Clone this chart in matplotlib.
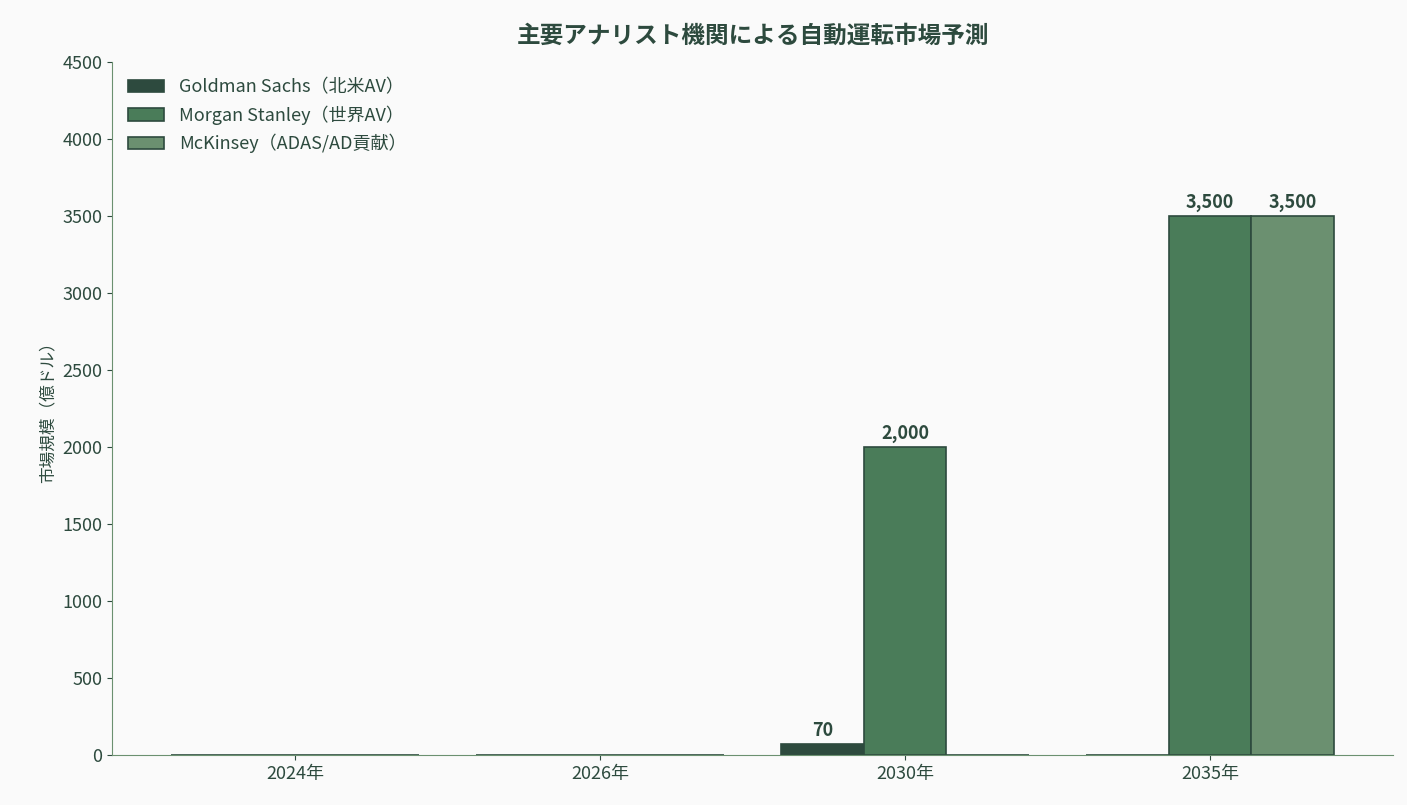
import matplotlib
matplotlib.use("Agg")
import matplotlib.pyplot as plt
import numpy as np

plt.rcParams['font.family'] = ['Noto Sans CJK JP', 'DejaVu Sans']

years = ["2024年", "2026年", "2030年", "2035年"]
series = ["Goldman Sachs（北米AV）", "Morgan Stanley（世界AV）", "McKinsey（ADAS/AD貢献）"]
goldman = [0, 0, 70, 0]
morgan = [0, 0, 2000, 3500]
mckinsey = [0, 0, 0, 3500]
colors = ["#2d4a3e", "#4a7c59", "#6b9070"]
text_c = "#2d4a3e"

fig = plt.figure(figsize=(14.07, 8.05), dpi=100, facecolor="#fafafa")
ax = fig.add_axes([112/1407, 50/805, 1281/1407, 693/805])
ax.set_facecolor("#fafafa")
x = np.arange(len(years))
w = 0.27
for i, (vals, c, lab) in enumerate(zip([goldman, morgan, mckinsey], colors, series)):
    bars = ax.bar(x + (i-1)*w, vals, w, color=c, edgecolor=text_c, linewidth=1.2, label=lab)
    for b, v in zip(bars, vals):
        if v > 0:
            ax.text(b.get_x()+b.get_width()/2, v+25, f"{v:,}", ha="center", va="bottom",
                    fontsize=13, fontweight="bold", color=text_c)
ax.set_xticks(x)
ax.set_xticklabels(years)
ax.set_ylim(0, 4500)
ax.set_yticks(range(0, 4501, 500))
ax.set_xlim(-0.6, 3.6)
ax.tick_params(colors=text_c, labelsize=13)
for s in ["top", "right"]:
    ax.spines[s].set_visible(False)
for s in ["left", "bottom"]:
    ax.spines[s].set_color("#6b9070")
ax.set_ylabel("市場規模（億ドル）", fontsize=12, color=text_c)
ax.set_title("主要アナリスト機関による自動運転市場予測", fontsize=17, fontweight="bold", color=text_c, pad=14)
leg = ax.legend(loc="upper left", frameon=False, fontsize=13, labelcolor=text_c)
fig.savefig("out.png", dpi=100, facecolor=fig.get_facecolor())
